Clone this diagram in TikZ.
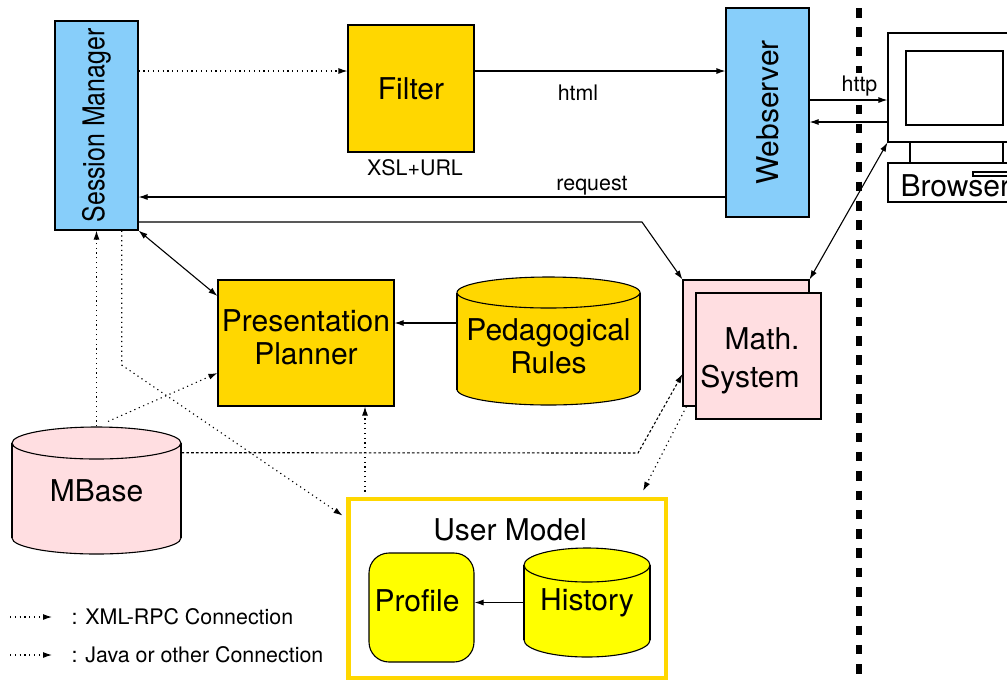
\documentclass[tikz,border=0pt]{standalone}
\usepackage{fontspec}
\usepackage{graphicx}
\setmainfont{TeX Gyre Heros}
\usetikzlibrary{arrows.meta}
\definecolor{smblue}{RGB}{135,206,250}
\definecolor{gold}{RGB}{255,215,0}
\definecolor{lemon}{RGB}{255,255,0}
\definecolor{rose}{RGB}{255,222,225}
\newcommand{\bigfont}{\fontsize{15}{16.6}\selectfont}
\newcommand{\smallfont}{\fontsize{10.7}{13}\selectfont}
% fill, left, right, top, bottom, cap radius
\newcommand{\drum}[6]{%
  \pgfmathsetmacro\drumcx{(#2+#3)/2}%
  \pgfmathsetmacro\drumrx{(#3-#2)/2}%
  \filldraw[fill=#1] (\drumcx,#5-#6) ellipse [x radius=\drumrx, y radius=#6];
  \fill[#1] (#2,#4+#6) rectangle (#3,#5-#6);
  \draw (#2,#4+#6) -- (#2,#5-#6) (#3,#4+#6) -- (#3,#5-#6);
  \filldraw[fill=#1] (\drumcx,#4+#6) ellipse [x radius=\drumrx, y radius=#6];
}
\begin{document}
\begin{tikzpicture}[x=0.5pt, y=-0.5pt, line width=0.55pt,
  >={Latex[length=4.5pt,width=3pt]},
  box/.style={draw, inner sep=0pt, font=\bigfont, align=center},
  txt/.style={inner sep=0pt, font=\bigfont, align=center},
  lbl/.style={inner sep=0pt, font=\smallfont},
  link/.style={->},
  rpc/.style={->, dash pattern=on 0.6pt off 1.8pt},
  java/.style={->, dash pattern=on 1.3pt off 1.1pt}]
	\useasboundingbox (0,0) rectangle (1007,682);
	\clip (0,0) rectangle (1007,682);
	\fill[white] (0,0) rectangle (1007,682);
	% server side
	\node[box, fill=smblue, minimum width=41.5pt, minimum height=104.5pt] (sm) at (96.5,125.5) {\rotatebox{90}{\scalebox{0.83}[1]{Session Manager}}};
	\node[box, fill=gold, minimum width=63pt, minimum height=63.5pt] (filter) at (411,88.5) {Filter};
	\node[lbl] (xsl) at (415,168) {XSL+URL};
	\node[box, fill=smblue, minimum width=41.5pt, minimum height=104.5pt] (ws) at (767.5,112.5) {\rotatebox{90}{Webserver}};
	\node[box, fill=gold, minimum width=88pt, minimum height=63pt] (pp) at (306,343) {};
	\node[txt] (pptxt) at (306,337) {Presentation\\Planner};
	\node[box, fill=rose, minimum width=63pt, minimum height=63pt] (mathb) at (746,343) {};
	\node[box, fill=rose, minimum width=62.5pt, minimum height=63pt] (mathf) at (758.5,356) {};
	\node[inner sep=0pt, font=\fontsize{15}{19}\selectfont, align=right] (mathtxt) at (750,361) {Math.\\System};
	\drum{gold}{457}{640}{277}{405}{15.5}
	\node[txt, minimum width=91.5pt, minimum height=64pt] (ped) at (548.5,346) {Pedagogical\\Rules};
	\drum{rose}{12}{181}{427}{554}{16}
	\node[txt, minimum width=84.5pt, minimum height=63.5pt] (mbase) at (96.5,490.5) {MBase};
	% user model
	\node[draw=gold, line width=2.35pt, fill=white, minimum width=158.75pt, minimum height=89.5pt] (um) at (507.25,588.5) {};
	\node[txt] (umtxt) at (510,530) {User Model};
	\node[box, fill=lemon, rounded corners=10pt, minimum width=52.5pt, minimum height=54.5pt] (profile) at (421.5,607.5) {};
	\node[txt] (proftxt) at (417,601) {Profile};
	\drum{lemon}{524}{650}{548}{657}{17}
	\node[txt, minimum width=63pt, minimum height=54.5pt] (history) at (587,602.5) {History};
	% client side
	\draw[line width=3.35pt, dash pattern=on 4.75pt off 4.9pt] (859,8) -- (859,690);
	\node[draw, fill=white, minimum width=71pt, minimum height=54.5pt] (monitor) at (959,87.5) {};
	\draw (906,51) rectangle (1003,125);
	\draw (910,142) -- (910,163) (1003,142) -- (1003,163);
	\node[draw, minimum width=71pt, minimum height=19.5pt] (base) at (959,182.5) {};
	\draw (973,172) rectangle (1030,176);
	\node[txt, anchor=base west] (browser) at (900,196.7) {Browser};
	\node[lbl, fill=white, inner sep=1.5pt] (http) at (859.5,86) {http};
	% connections
	\draw[rpc] ([yshift=8.75pt]filter.west -| sm.east) -- ([yshift=8.75pt]filter.west);
	\draw[link] ([yshift=8.75pt]filter.east) -- ([yshift=8.75pt]filter.east -| ws.west);
	\node[lbl] (html) at (578,93) {html};
	\draw[link] ([yshift=-42.25pt]ws.west) -- ([yshift=-42.25pt]ws.west -| sm.east);
	\node[lbl] (request) at (592,186) {request};
	\draw[link] ([yshift=-48.25pt]sm.east) -- (642,222) -- (mathb.north west);
	\draw[link] ([yshift=6.25pt]ws.east) -- ([yshift=6.25pt]ws.east -| monitor.west);
	\draw[link] ([yshift=-4.75pt]ws.east -| monitor.west) -- ([yshift=-4.75pt]ws.east);
	\draw[<->] (mathb.north east) -- (monitor.south west);
	\draw[<->] (sm.south east) -- ([yshift=23.5pt]pp.west);
	\draw[link] ([yshift=11.5pt]ped.west) -- ([yshift=11.5pt]ped.west -| pp.east);
	\draw[rpc] ([xshift=5.75pt,yshift=2.5pt]mbase.north) -- ([yshift=-15pt]pp.west);
	\draw[rpc] (mbase.north) -- (mbase.north |- sm.south);
	\draw[rpc, shorten >=2.2pt] ([xshift=12.6pt]sm.south) -- (121.7,365) -- ([yshift=35.25pt]um.west);
	\draw[rpc, shorten <=2.5pt] ([xshift=29.5pt]pp.south |- um.north) -- ([xshift=29.5pt]pp.south);
	\draw[java] ([yshift=18.9pt]mbase.east) -- (638,453) -- ([yshift=-15.5pt]mathb.west);
	\draw[rpc, shorten >=3.3pt] ([xshift=2pt]mathb.south west) -- ([xshift=66.4pt]um.north);
	\draw[link] (history.west) -- (history.west -| profile.east);
	% legend
	\coordinate (lg1) at (10,617);
	\node[lbl, anchor=west] (rpctxt) at (71,617) {: XML-RPC Connection};
	\draw[rpc] (lg1) -- ([xshift=-9.5pt]rpctxt.west);
	\coordinate (lg2) at (10,655);
	\node[lbl, anchor=west] (javatxt) at (71,655) {: Java or other Connection};
	\draw[rpc] (lg2) -- ([xshift=-9.5pt]javatxt.west);
\end{tikzpicture}
\end{document}
